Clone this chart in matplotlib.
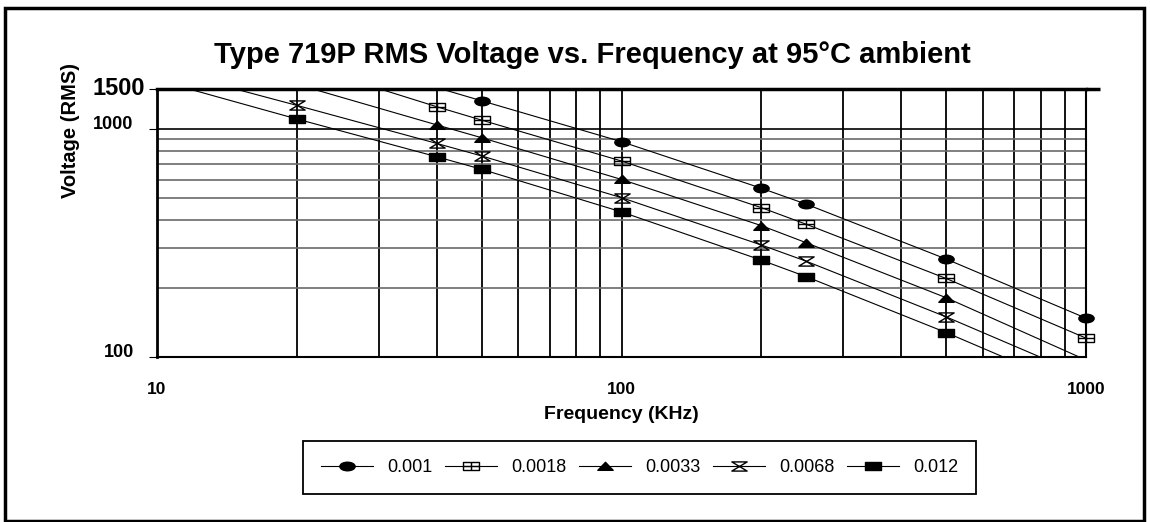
import numpy as np
import matplotlib
matplotlib.use('Agg')
import matplotlib.pyplot as plt
from matplotlib.path import Path
from matplotlib.transforms import Affine2D
from matplotlib.ticker import LogLocator, NullFormatter, FixedLocator
from matplotlib.lines import Line2D
from matplotlib.patches import Rectangle

plt.rcParams['font.family'] = ['Liberation Sans', 'DejaVu Sans']

# ---------------- data ----------------
series_labels = ['0.001', '0.0018', '0.0033', '0.0068', '0.012']

freq_0001 = [40, 50, 100, 200, 250, 500, 1000]
volt_0001 = [1520, 1330, 880, 550, 468, 269, 148]

freq_00018 = [20, 40, 50, 100, 200, 250, 500, 1000]
volt_00018 = [1950, 1253, 1094, 724, 452, 382, 221, 121]

freq_00033 = [20, 40, 50, 100, 200, 250, 500, 1000]
volt_00033 = [1570, 1043, 916, 601, 377, 317, 182, 97]

freq_00068 = [10, 20, 40, 50, 100, 200, 250, 500, 1000]
volt_00068 = [1850, 1270, 865, 762, 500, 310, 263, 150, 82]

freq_0012 = [10, 20, 40, 50, 100, 200, 250, 500, 1000]
volt_0012 = [1640, 1107, 756, 666, 433, 266, 225, 128, 70]

title_text = 'Type 719P RMS Voltage vs. Frequency at 95°C ambient'
x_label = 'Frequency (KHz)'
y_label = 'Voltage (RMS)'
x_ticks = [10, 100, 1000]
x_tick_labels = ['10', '100', '1000']
y_ticks = [100, 1000, 1500]
y_tick_labels = ['100', '1000', '1500']
x_limits = (10, 1000)
y_limits = (100, 1500)

# ---------------- marker shapes ----------------
ellipse = Path.unit_circle().transformed(Affine2D().scale(1.0, 0.56))
sq_cross = Path([(-1, -0.55), (1, -0.55), (1, 0.55), (-1, 0.55), (-1, -0.55),
                 (-1, 0), (1, 0), (0, -0.55), (0, 0.55)],
                [Path.MOVETO, Path.LINETO, Path.LINETO, Path.LINETO, Path.CLOSEPOLY,
                 Path.MOVETO, Path.LINETO, Path.MOVETO, Path.LINETO])
triangle = Path([(-1, -0.5), (1, -0.5), (0, 0.55), (-1, -0.5)],
                [Path.MOVETO, Path.LINETO, Path.LINETO, Path.CLOSEPOLY])
hourglass = Path([(-1, 0.6), (1, 0.6), (-1, -0.6), (1, -0.6), (-1, 0.6)],
                 [Path.MOVETO, Path.LINETO, Path.LINETO, Path.LINETO, Path.CLOSEPOLY])
rect = Path([(-1, -0.56), (1, -0.56), (1, 0.56), (-1, 0.56), (-1, -0.56)],
            [Path.MOVETO, Path.LINETO, Path.LINETO, Path.LINETO, Path.CLOSEPOLY])

styles = [
    dict(marker=ellipse, mfc='black'),
    dict(marker=sq_cross, mfc='none'),
    dict(marker=triangle, mfc='black'),
    dict(marker=hourglass, mfc='none'),
    dict(marker=rect, mfc='black'),
]
all_freq = [freq_0001, freq_00018, freq_00033, freq_00068, freq_0012]
all_volt = [volt_0001, volt_00018, volt_00033, volt_00068, volt_0012]

# ---------------- figure ----------------
W, H = 1150, 522
fig = plt.figure(figsize=(W / 100, H / 100), dpi=100)
ax = fig.add_axes([157 / W, 1 - 357 / H, 929 / W, 268.1 / H])
ax.set_xscale('log')
ax.set_yscale('log')
ax.set_xlim(*x_limits)
ax.set_ylim(*y_limits)
ax.set_axisbelow(True)

ax.xaxis.set_major_locator(FixedLocator(x_ticks))
ax.xaxis.set_minor_locator(LogLocator(base=10, subs=np.arange(2, 10)))
ax.xaxis.set_minor_formatter(NullFormatter())
ax.yaxis.set_major_locator(FixedLocator(y_ticks))
ax.yaxis.set_minor_locator(LogLocator(base=10, subs=np.arange(2, 10)))
ax.yaxis.set_minor_formatter(NullFormatter())

ax.grid(True, which='both', axis='x', color='black', lw=1.3)
ax.grid(True, which='minor', axis='y', color='#6a6a6a', lw=1.2)
ax.grid(True, which='major', axis='y', color='black', lw=1.2)

ax.set_xticks(x_ticks, labels=x_tick_labels, fontweight='bold', fontsize=12.5)
ax.tick_params(axis='x', which='both', length=0, pad=18)
ax.tick_params(axis='y', which='major', length=6, width=0.8, direction='out',
               labelleft=False)
ax.tick_params(axis='y', which='minor', length=0)

# y tick labels (different sizes as in the original)
ytr = ax.get_yaxis_transform()
y_label_cfg = {'1500': dict(x=-0.013, va='center', fontsize=17),
               '1000': dict(x=-0.026, va='baseline', fontsize=13),
               '100': dict(x=-0.025, va='baseline', fontsize=13)}
for val, lab in zip(y_ticks, y_tick_labels):
    c = y_label_cfg[lab]
    ax.text(c['x'], val, lab, transform=ytr, ha='right', va=c['va'],
            fontsize=c['fontsize'], fontweight='bold')

for side, lw in [('top', 2.5), ('left', 2.0), ('bottom', 1.5), ('right', 1.5)]:
    ax.spines[side].set_linewidth(lw)
    ax.spines[side].set_color('black')
ax.plot([1, 1.0151], [1, 1], transform=ax.transAxes, color='black', lw=2.5,
        clip_on=False, solid_capstyle='butt')

handles = []
for f, v, st, lab in zip(all_freq, all_volt, styles, series_labels):
    f = np.asarray(f, float)
    v = np.asarray(v, float)
    ax.plot(f, v, color='black', lw=0.8, zorder=3)
    m = (v >= y_limits[0]) & (v <= y_limits[1])
    ax.plot(f[m], v[m], ls='none', marker=st['marker'], ms=11,
            mfc=st['mfc'], mec='black', mew=1.0, zorder=4, clip_on=False)
    handles.append(Line2D([], [], color='black', lw=0.8, marker=st['marker'],
                          ms=11, mfc=st['mfc'], mec='black', mew=1.0))

fig.text(592 / W, 1 - 63 / H, title_text, ha='center', va='baseline',
         fontsize=21, fontweight='bold')
fig.text(71 / W, 1 - 131 / H, y_label, rotation=90, ha='center', va='center',
         fontsize=14.5, fontweight='bold')
fig.text(621 / W, 1 - 419 / H, x_label, ha='center', va='baseline',
         fontsize=14, fontweight='bold')

leg = fig.legend(handles, series_labels, loc='center',
                 bbox_to_anchor=(639.5 / W, 1 - 467.5 / H), ncol=5,
                 fontsize=13, handlelength=2.88, handletextpad=0.78,
                 columnspacing=0.7, borderpad=1.0, fancybox=False,
                 framealpha=1, edgecolor='black')
leg.get_frame().set_linewidth(1.3)

fig.patches.append(Rectangle((5 / W, 1 - 521 / H), (1144 - 5) / W, (521 - 8) / H,
                             transform=fig.transFigure, fill=False, lw=2.5,
                             ec='black'))

fig.savefig('out.png', dpi=100)
